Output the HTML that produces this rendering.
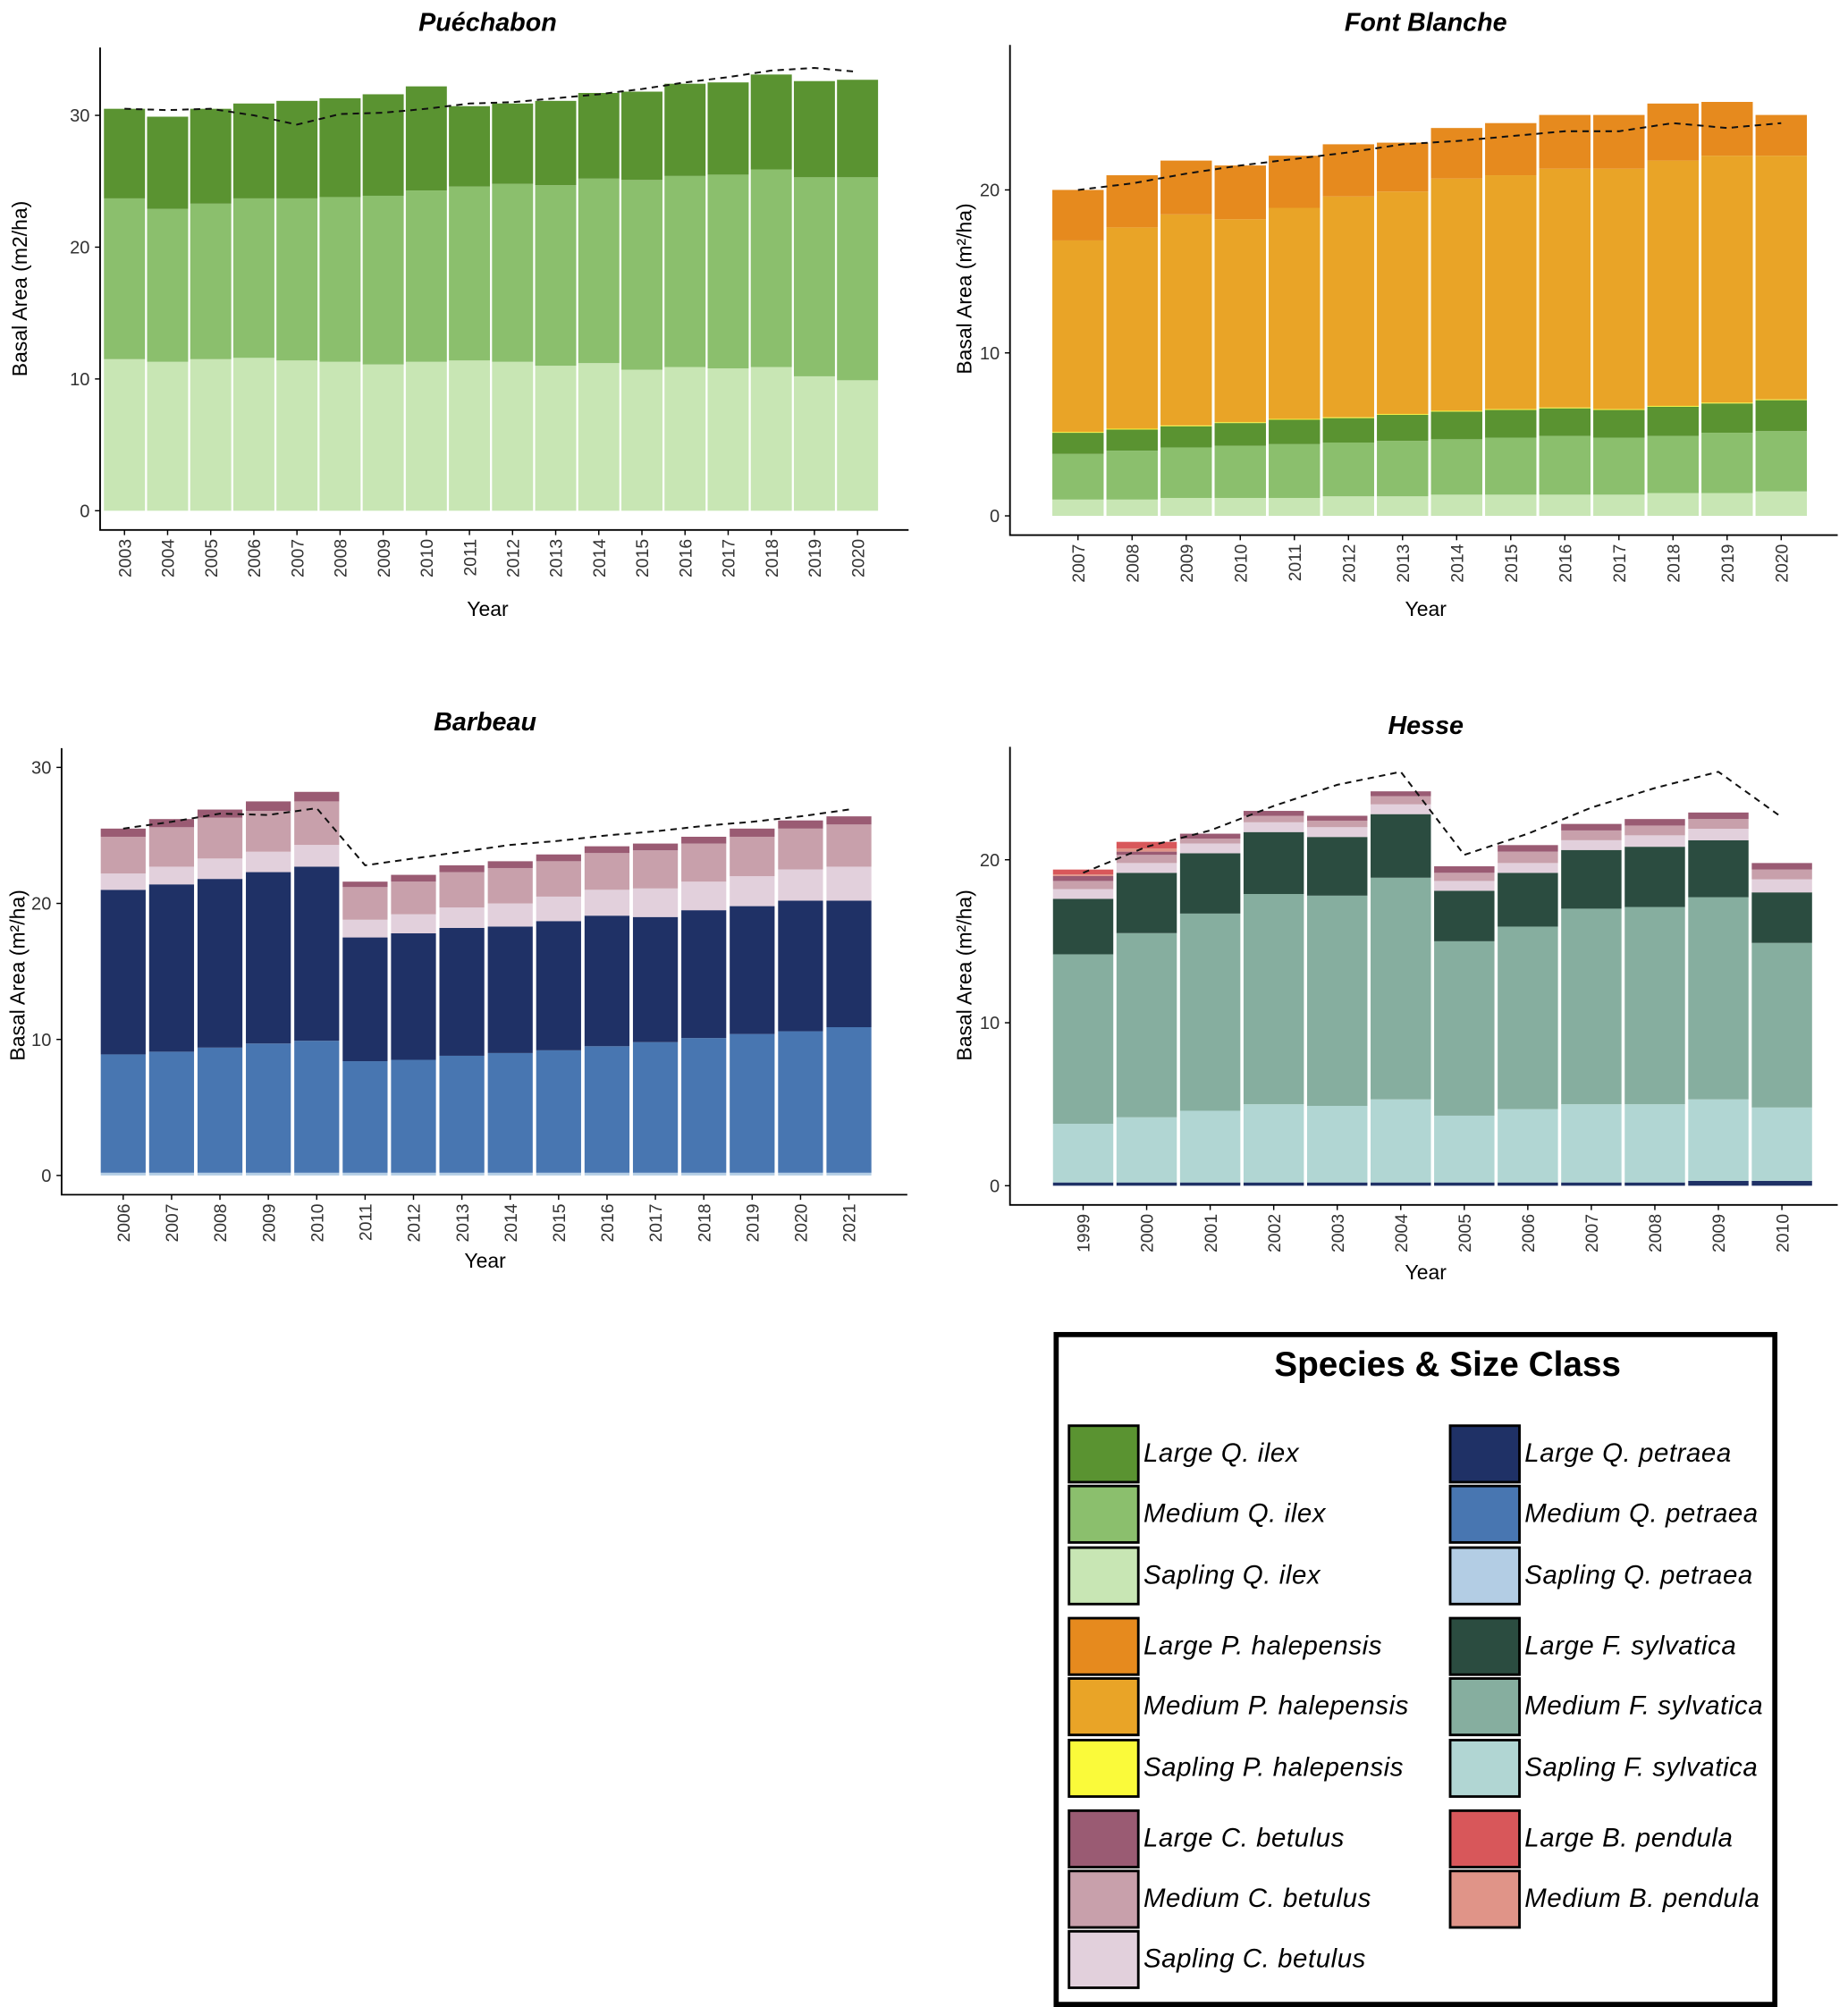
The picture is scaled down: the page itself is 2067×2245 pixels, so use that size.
<!DOCTYPE html>
<html><head><meta charset="utf-8"><style>
html,body{margin:0;padding:0;background:#fff;}
svg{display:block;font-family:"Liberation Sans",sans-serif;}
</style></head><body>
<svg id="s" width="2067" height="2245" viewBox="0 0 1440 1564" preserveAspectRatio="none" xmlns="http://www.w3.org/2000/svg"></svg>
<script>
const C={LQi:'#5a9331',MQi:'#8bbf6d',SQi:'#c8e6b4',LPh:'#e68a1e',MPh:'#e9a427',SPh:'#fafa3a',
LCb:'#9a5b73',MCb:'#c8a0ab',SCb:'#e2d0dc',LQp:'#1f3166',MQp:'#4876b1',SQp:'#b3cde4',
LFs:'#2b4c40',MFs:'#86ae9f',SFs:'#b1d6d3',LBp:'#d8575a',MBp:'#e09488'};

// Puéchabon
const pYears=['2003','2004','2005','2006','2007','2008','2009','2010','2011','2012','2013','2014','2015','2016','2017','2018','2019','2020'];
const pSapQi=[11.5,11.3,11.5,11.6,11.4,11.3,11.1,11.3,11.4,11.3,11.0,11.2,10.7,10.9,10.8,10.9,10.2,9.9];
const pMedQi=[12.2,11.6,11.8,12.1,12.3,12.5,12.8,13.0,13.2,13.5,13.7,14.0,14.4,14.5,14.7,15.0,15.1,15.4];
const pLrgQi=[6.8,7.0,7.2,7.2,7.4,7.5,7.7,7.9,6.1,6.1,6.4,6.5,6.7,7.0,7.0,7.2,7.3,7.4];
const pLine=[30.5,30.4,30.5,30.0,29.3,30.1,30.2,30.5,30.9,31.0,31.3,31.6,32.0,32.5,32.9,33.4,33.6,33.3];
const pTicks=[0,10,20,30];
// Font Blanche
const fYears=['2007','2008','2009','2010','2011','2012','2013','2014','2015','2016','2017','2018','2019','2020'];
const fSapQi=[1.0,1.0,1.1,1.1,1.1,1.2,1.2,1.3,1.3,1.3,1.3,1.4,1.4,1.5];
const fMedQi=[2.8,3.0,3.1,3.2,3.3,3.3,3.4,3.4,3.5,3.6,3.5,3.5,3.7,3.7];
const fLrgQi=[1.3,1.3,1.3,1.4,1.5,1.5,1.6,1.7,1.7,1.7,1.7,1.8,1.8,1.9];
const fSapPh=[0.05,0.05,0.05,0.05,0.05,0.05,0.05,0.05,0.05,0.05,0.05,0.05,0.05,0.05];
const fMedPh=[11.75,12.35,12.95,12.45,12.95,13.55,13.65,14.25,14.35,14.65,14.75,15.05,15.15,14.95];
const fLrgPh=[3.1,3.2,3.3,3.3,3.2,3.2,3.0,3.1,3.2,3.3,3.3,3.5,3.3,2.5];
const fLine=[20.0,20.4,21.0,21.5,21.9,22.3,22.8,23.0,23.3,23.6,23.6,24.1,23.8,24.1];
const fTicks=[0,10,20];
// Barbeau
const bYears=['2006','2007','2008','2009','2010','2011','2012','2013','2014','2015','2016','2017','2018','2019','2020','2021'];
const bSapQp=[0.2,0.2,0.2,0.2,0.2,0.2,0.2,0.2,0.2,0.2,0.2,0.2,0.2,0.2,0.2,0.2];
const bMedQp=[8.7,8.9,9.2,9.5,9.7,8.2,8.3,8.6,8.8,9.0,9.3,9.6,9.9,10.2,10.4,10.7];
const bLrgQp=[12.1,12.3,12.4,12.6,12.8,9.1,9.3,9.4,9.3,9.5,9.6,9.2,9.4,9.4,9.6,9.3];
const bSapCb=[1.2,1.3,1.5,1.5,1.6,1.3,1.4,1.5,1.7,1.8,1.9,2.1,2.1,2.2,2.3,2.5];
const bMedCb=[2.7,2.9,3.0,3.0,3.2,2.4,2.4,2.6,2.6,2.6,2.7,2.8,2.8,2.9,3.0,3.1];
const bLrgCb=[0.6,0.6,0.6,0.7,0.7,0.4,0.5,0.5,0.5,0.5,0.5,0.5,0.5,0.6,0.6,0.6];
const bLine=[25.5,26.0,26.6,26.5,27.0,22.8,23.3,23.8,24.3,24.6,25.0,25.3,25.7,26.0,26.4,26.9];
const bTicks=[0,10,20,30];
// Hesse
const hYears=['1999','2000','2001','2002','2003','2004','2005','2006','2007','2008','2009','2010'];
const hLrgQp=[0.2,0.2,0.2,0.2,0.2,0.2,0.2,0.2,0.2,0.2,0.3,0.3];
const hSapFs=[3.6,4.0,4.4,4.8,4.7,5.1,4.1,4.5,4.8,4.8,5.0,4.5];
const hMedFs=[10.4,11.3,12.1,12.9,12.9,13.6,10.7,11.2,12.0,12.1,12.4,10.1];
const hLrgFs=[3.4,3.7,3.7,3.8,3.6,3.9,3.1,3.3,3.6,3.7,3.5,3.1];
const hSapCb=[0.6,0.6,0.6,0.6,0.6,0.6,0.6,0.6,0.6,0.7,0.7,0.8];
const hMedCb=[0.5,0.5,0.3,0.4,0.4,0.5,0.5,0.7,0.6,0.6,0.6,0.6];
const hLrgCb=[0.3,0.2,0.3,0.3,0.3,0.3,0.4,0.4,0.4,0.4,0.4,0.4];
const hMedBp=[0.1,0.2,0,0,0,0,0,0,0,0,0,0];
const hLrgBp=[0.3,0.4,0,0,0,0,0,0,0,0,0,0];
const hLine=[19.2,20.8,21.8,23.3,24.6,25.4,20.3,21.6,23.2,24.4,25.4,22.6];
const hTicks=[0,10,20];

const NS='http://www.w3.org/2000/svg';
const svg=document.getElementById('s');
function mk(tag,attrs,parent){const e=document.createElementNS(NS,tag);for(const k in attrs)e.setAttribute(k,attrs[k]);(parent||svg).appendChild(e);return e;}

function panel(cfg){
  const g=mk('g',{});
  
  
  const yS=v=>cfg.y0-v*cfg.ppu;
  const xS=i=>cfg.x0+i*cfg.sp;
  const base=cfg.years.map(()=>0);
  cfg.layers.forEach(L=>{
    L.vals.forEach((v,i)=>{
      if(v>0){
        const r=mk('rect',{x:xS(i)-cfg.bw/2,y:yS(base[i]+v),width:cfg.bw,height:v*cfg.ppu,fill:L.col},g);
        
        
      }
      base[i]+=v;
    });
  });
  const pts=cfg.line.map((v,i)=>xS(i)+','+yS(v)).join(' ');
  const pl=mk('polyline',{points:pts,fill:'none',stroke:'#111','stroke-width':1.4,'stroke-dasharray':'5,4'},g);
  
  
  const ax=mk('path',{d:`M${cfg.ax},${cfg.top}V${cfg.bot}H${cfg.right}`,fill:'none',stroke:'#000','stroke-width':1.3},g);
  
  
  cfg.ticks.forEach(t=>{
    mk('line',{x1:cfg.ax-4,x2:cfg.ax,y1:yS(t),y2:yS(t),stroke:'#000'},g);
    const tx=mk('text',{x:cfg.ax-8,y:yS(t)+5,'text-anchor':'end','font-size':14,fill:'#333'},g);
    tx.textContent=t;
    
    
  });
  cfg.years.forEach((y,i)=>{
    mk('line',{x1:xS(i),x2:xS(i),y1:cfg.bot,y2:cfg.bot+4,stroke:'#000'},g);
    const tx=mk('text',{x:0,y:0,'text-anchor':'end','font-size':13.5,fill:'#333',transform:`translate(${xS(i)+5},${cfg.bot+7}) rotate(-90)`},g);
    tx.textContent=y;
    
    
  });
  const ti=mk('text',{x:cfg.tx,y:cfg.ty,'text-anchor':'middle','font-size':20,'font-weight':'bold','font-style':'italic'},g);
  ti.textContent=cfg.title;
  
  
  const xl=mk('text',{x:cfg.tx,y:cfg.xly,'text-anchor':'middle','font-size':16},g);
  xl.textContent='Year';
  
  
  const yl=mk('text',{x:0,y:0,'text-anchor':'middle','font-size':16,transform:`translate(${cfg.ylx},${cfg.yly}) rotate(-90)`},g);
  yl.textContent=cfg.ylab;
  
  
}

panel({name:'puechabon',title:'Puéchabon',years:pYears,line:pLine,ticks:pTicks,
 layers:[{key:'sapling-q-ilex',vals:pSapQi,col:C.SQi},{key:'medium-q-ilex',vals:pMedQi,col:C.MQi},{key:'large-q-ilex',vals:pLrgQi,col:C.LQi}],
 ax:78,top:37,bot:413,right:708,y0:398,ppu:10.27,x0:97,sp:33.6,bw:32,tx:380,ty:24,xly:480,ylx:21,yly:225,ylab:'Basal Area (m2/ha)'});
panel({name:'font-blanche',title:'Font Blanche',years:fYears,line:fLine,ticks:fTicks,
 layers:[{key:'sapling-q-ilex',vals:fSapQi,col:C.SQi},{key:'medium-q-ilex',vals:fMedQi,col:C.MQi},{key:'large-q-ilex',vals:fLrgQi,col:C.LQi},
 {key:'sapling-p-halepensis',vals:fSapPh,col:C.SPh},{key:'medium-p-halepensis',vals:fMedPh,col:C.MPh},{key:'large-p-halepensis',vals:fLrgPh,col:C.LPh}],
 ax:787,top:35,bot:417,right:1432,y0:402,ppu:12.7,x0:840,sp:42.15,bw:40,tx:1111,ty:24,xly:480,ylx:757,yly:225,ylab:'Basal Area (m²/ha)'});
panel({name:'barbeau',title:'Barbeau',years:bYears,line:bLine,ticks:bTicks,
 layers:[{key:'sapling-q-petraea',vals:bSapQp,col:C.SQp},{key:'medium-q-petraea',vals:bMedQp,col:C.MQp},{key:'large-q-petraea',vals:bLrgQp,col:C.LQp},
 {key:'sapling-c-betulus',vals:bSapCb,col:C.SCb},{key:'medium-c-betulus',vals:bMedCb,col:C.MCb},{key:'large-c-betulus',vals:bLrgCb,col:C.LCb}],
 ax:48,top:583,bot:931,right:707,y0:916,ppu:10.6,x0:96,sp:37.7,bw:35,tx:378,ty:569,xly:988,ylx:19,yly:760,ylab:'Basal Area (m²/ha)'});
panel({name:'hesse',title:'Hesse',years:hYears,line:hLine,ticks:hTicks,
 layers:[{key:'large-q-petraea',vals:hLrgQp,col:C.LQp},{key:'sapling-f-sylvatica',vals:hSapFs,col:C.SFs},{key:'medium-f-sylvatica',vals:hMedFs,col:C.MFs},{key:'large-f-sylvatica',vals:hLrgFs,col:C.LFs},
 {key:'sapling-c-betulus',vals:hSapCb,col:C.SCb},{key:'medium-c-betulus',vals:hMedCb,col:C.MCb},{key:'large-c-betulus',vals:hLrgCb,col:C.LCb},
 {key:'medium-b-pendula',vals:hMedBp,col:C.MBp},{key:'large-b-pendula',vals:hLrgBp,col:C.LBp}],
 ax:787,top:582,bot:939,right:1432,y0:924,ppu:12.7,x0:844,sp:49.5,bw:47,tx:1111,ty:572,xly:997,ylx:757,yly:760,ylab:'Basal Area (m²/ha)'});

// Legend
const lg=mk('g',{});


mk('rect',{x:823,y:1040,width:560,height:522,fill:'#fff',stroke:'#000','stroke-width':4},lg);
const lt=mk('text',{x:1128,y:1072,'text-anchor':'middle','font-size':27,'font-weight':'bold'},lg);
lt.textContent='Species & Size Class';


const leftItems=[['Large Q. ilex',C.LQi,1133],['Medium Q. ilex',C.MQi,1180],['Sapling Q. ilex',C.SQi,1228],['Large P. halepensis',C.LPh,1283],['Medium P. halepensis',C.MPh,1330],['Sapling P. halepensis',C.SPh,1378],['Large C. betulus',C.LCb,1433],['Medium C. betulus',C.MCb,1480],['Sapling C. betulus',C.SCb,1527]];
const rightItems=[['Large Q. petraea',C.LQp,1133],['Medium Q. petraea',C.MQp,1180],['Sapling Q. petraea',C.SQp,1228],['Large F. sylvatica',C.LFs,1283],['Medium F. sylvatica',C.MFs,1330],['Sapling F. sylvatica',C.SFs,1378],['Large B. pendula',C.LBp,1433],['Medium B. pendula',C.MBp,1480]];
function legItem(it,x){
  const g=mk('g',{},lg);
  
  
  mk('rect',{x:x,y:it[2]-22,width:54,height:44,fill:it[1],stroke:'#000','stroke-width':2},g);
  const t=mk('text',{x:x+58,y:it[2]+6,'font-size':20.5,'font-style':'italic','letter-spacing':0.4},g);
  t.textContent=it[0];
}
leftItems.forEach(it=>legItem(it,833));
rightItems.forEach(it=>legItem(it,1130));
</script>
</body></html>
